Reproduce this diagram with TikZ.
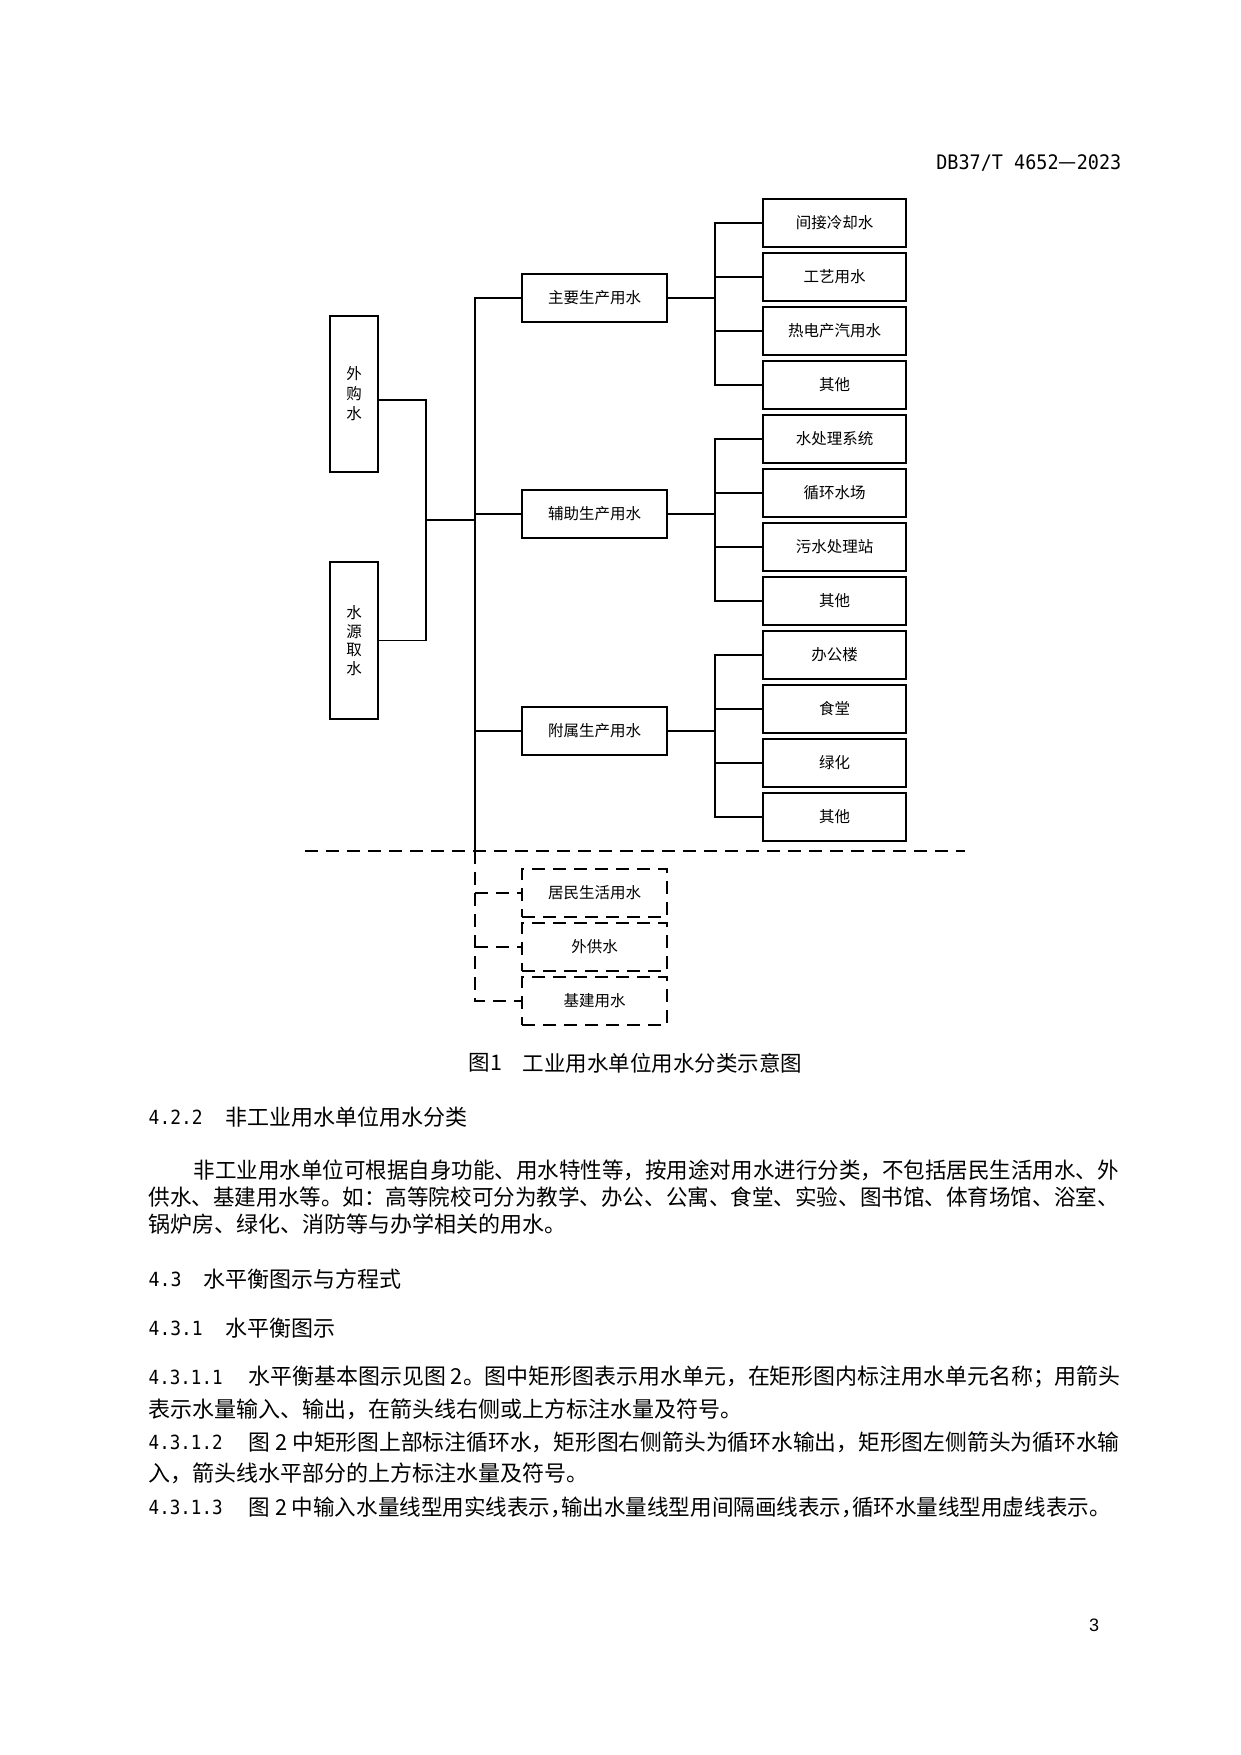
\documentclass[tikz,border=0pt]{standalone}
\usepackage{fontspec}
\usepackage{graphicx}
\setmainfont{Noto Sans CJK SC}
\newfontfamily\monof{DejaVu Sans Mono}
\newfontfamily\lsans{Liberation Sans}
\newcommand\fitline[2]{\resizebox{#1pt}{\height}{#2}}
\newcommand\fsz[2]{\fontsize{#1}{#2}\selectfont}
\begin{document}
\begin{tikzpicture}[x=1pt,y=-1pt,line width=1.4pt,
  box/.style={draw,rectangle,inner sep=0pt,line width=1.4pt,align=center,font=\fsz{15.5}{20}},
  dsh/.style={dash pattern=on 13pt off 8pt},
  ln/.style={anchor=west,inner sep=0pt,font=\fsz{22}{22}},
  hd/.style={anchor=west,inner sep=0pt,font=\fsz{22}{22}},
  num/.style={anchor=west,inner sep=0pt,font=\monof\fsz{19.5}{19.5}}]
\useasboundingbox (0,0) rectangle (1241,1755);
\fill[white] (0,0) rectangle (1241,1755);

% header
\node[anchor=east,inner sep=0pt] (hdr) at (1122,163) {\fitline{185}{{\monof\fsz{20}{20}DB37/T 4652}{\fsz{22}{22}—}{\monof\fsz{20}{20}2023}}};

% left source boxes
\node[box,minimum width=48,minimum height=156] (wg) at (354,394) {外\\购\\水};
\node[box,minimum width=48,minimum height=157,font=\fsz{15.5}{18.7}] (sy) at (354,640.5) {水\\源\\取\\水};

% middle boxes
\node[box,minimum width=145,minimum height=48] (m1) at (594.5,298) {主要生产用水};
\node[box,minimum width=145,minimum height=48] (m2) at (594.5,514) {辅助生产用水};
\node[box,minimum width=145,minimum height=48] (m3) at (594.5,731) {附属生产用水};

% right boxes
\foreach \t [count=\i] in {间接冷却水,工艺用水,热电产汽用水,其他,水处理系统,循环水场,污水处理站,其他,办公楼,食堂,绿化,其他}
  \node[box,minimum width=143,minimum height=48] (r\i) at (834.5,{223+54*(\i-1)}) {\t};

% dashed boxes
\node[box,dsh,minimum width=145,minimum height=48] (d1) at (594.5,893) {居民生活用水};
\node[box,dsh,minimum width=145,minimum height=48] (d2) at (594.5,947) {外供水};
\node[box,dsh,minimum width=145,minimum height=48] (d3) at (594.5,1001) {基建用水};

% helper coordinates
\coordinate (jn) at (426,520);
\coordinate (trx) at (475,0);
\coordinate (combx) at (715,0);
\coordinate (dl1) at (305,851);
\coordinate (dl2) at (965,851);

% source connectors
\draw ([yshift=-6pt]wg.east) -| (jn);
\draw (sy.east) -| (jn);
\draw (jn) -- (jn -| trx);

% trunk
\draw (m1.west) -- (m1.west -| trx) -- (trx |- dl1);
\draw (m2.west) -- (m2.west -| trx);
\draw (m3.west) -- (m3.west -| trx);

% combs
\foreach \a/\b/\m in {1/4/m1,5/8/m2,9/12/m3}{
  \draw (\m.east) -- (\m.east -| combx);
  \draw (r\a.west) -- (r\a.west -| combx) -- (r\b.west -| combx) -- (r\b.west);
}
\foreach \k in {2,3,6,7,10,11}
  \draw (r\k.west) -- (r\k.west -| combx);

% dashed separator and dashed branches
\draw[dsh] (dl1) -- (dl2);
\draw[dsh] (trx |- dl1) -- (trx |- d3.west) -- (d3.west);
\draw[dsh] (d1.west -| trx) -- (d1.west);
\draw[dsh] (d2.west -| trx) -- (d2.west);

% caption
\node[anchor=west,inner sep=0pt,font=\fsz{21.5}{21.5}] (cap1) at (468,1063) {图1};
\node[anchor=west,inner sep=0pt,font=\fsz{21.5}{21.5}] (cap2) at (522,1063) {工业用水单位用水分类示意图};

% 4.2.2
\node[num] (n1) at (148,1117) {\fitline{54}{4.2.2}};
\node[hd] (h1) at (225,1117) {非工业用水单位用水分类};
\node[ln] (p1a) at (193,1170) {\fitline{925}{非工业用水单位可根据自身功能、用水特性等，按用途对用水进行分类，不包括居民生活用水、外}};
\node[ln] (p1b) at (148,1197) {\fitline{970}{供水、基建用水等。如：高等院校可分为教学、办公、公寓、食堂、实验、图书馆、体育场馆、浴室、}};
\node[ln] (p1c) at (148,1224) {锅炉房、绿化、消防等与办学相关的用水。};

% 4.3
\node[num] (n2) at (148,1279) {\fitline{33}{4.3}};
\node[hd] (h2) at (203,1279) {水平衡图示与方程式};

% 4.3.1
\node[num] (n3) at (148,1328) {\fitline{54}{4.3.1}};
\node[hd] (h3) at (225,1328) {水平衡图示};

% 4.3.1.1
\node[num] (n4) at (148,1377) {\fitline{74}{4.3.1.1}};
\node[ln] (p2a) at (248,1377) {\fitline{872}{水平衡基本图示见图 2。图中矩形图表示用水单元，在矩形图内标注用水单元名称；用箭头}};
\node[ln] (p2b) at (148,1409) {表示水量输入、输出，在箭头线右侧或上方标注水量及符号。};

% 4.3.1.2
\node[num] (n5) at (148,1442) {\fitline{74}{4.3.1.2}};
\node[ln] (p3a) at (248,1442) {\fitline{871}{图 2 中矩形图上部标注循环水，矩形图右侧箭头为循环水输出，矩形图左侧箭头为循环水输}};
\node[ln] (p3b) at (148,1473) {入，箭头线水平部分的上方标注水量及符号。};

% 4.3.1.3
\node[num] (n6) at (148,1507) {\fitline{74}{4.3.1.3}};
\node[ln] (p4a) at (248,1507) {\fitline{862}{图 2 中输入水量线型用实线表示\makebox[11pt][l]{，}输出水量线型用间隔画线表示\makebox[11pt][l]{，}循环水量线型用虚线表示。}};

% page number
\node[inner sep=0pt,font=\lsans\fsz{18}{18}] (pg) at (1094,1625) {3};
\end{tikzpicture}
\end{document}
